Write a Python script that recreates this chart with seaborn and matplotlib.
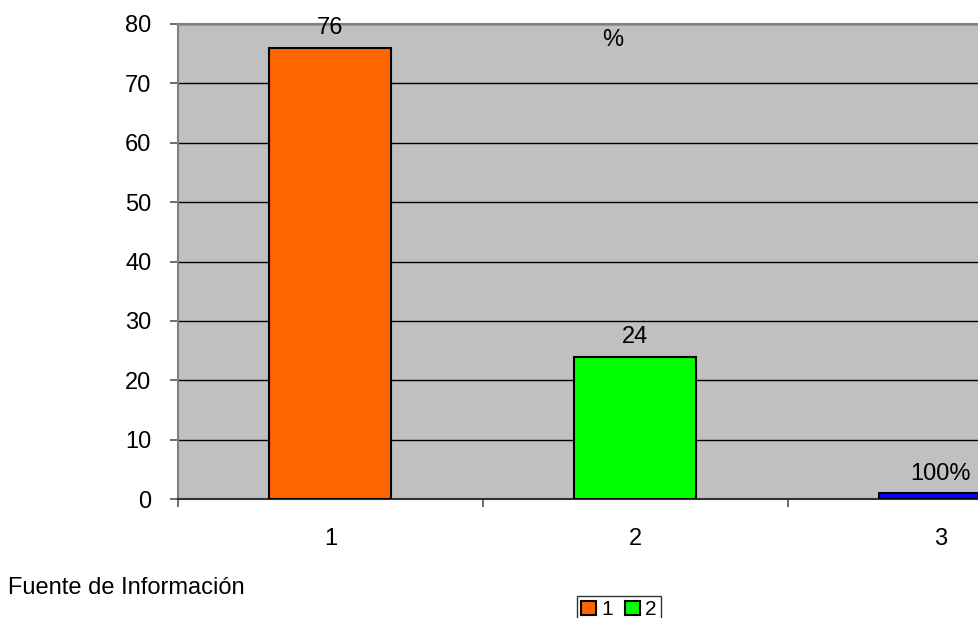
import matplotlib
matplotlib.use("Agg")
import matplotlib.pyplot as plt
import seaborn as sns
import pandas as pd
from matplotlib.patches import Patch

categories = ["1", "2", "3"]
values = [76, 24, 1]
bar_labels = ["76", "24", "100%"]
bar_colors = ["#FF6600", "#00FF00", "#0000FF"]
legend_labels = ["1", "2"]
y_ticks = [0, 10, 20, 30, 40, 50, 60, 70, 80]

sns.set_theme(style="white")
plt.rcParams['font.family'] = ['Liberation Sans', 'DejaVu Sans']
plt.rcParams['text.color'] = 'black'

df = pd.DataFrame({"cat": categories, "val": values})

fig = plt.figure(figsize=(9.79, 6.18), dpi=100)
W, H = 979, 618
ax = fig.add_axes([178 / W, (H - 499) / H, 915 / W, 475 / H])
ax.set_facecolor("#C0C0C0")

sns.barplot(data=df, x="cat", y="val", hue="cat", palette=bar_colors,
            legend=False, width=0.4, edgecolor="black", linewidth=1.5,
            saturation=1, ax=ax, zorder=3)

ax.set_ylim(0, 80)
ax.set_xlim(-0.5, 2.5)
ax.set_yticks(y_ticks)
ax.yaxis.grid(True, color="black", linewidth=1.0, zorder=1)
ax.set_axisbelow(True)
ax.set_xlabel("")
ax.set_ylabel("")

ax.set_xticks(range(len(categories)))
ax.set_xticklabels(categories)
ax.set_xticks([i - 0.5 for i in range(len(categories) + 1)], minor=True)
ax.tick_params(axis="x", which="major", length=0, labelsize=17, pad=21, colors="black")
ax.tick_params(axis="x", which="minor", length=6, width=1.2, color="#555555", direction="out", bottom=True)
ax.tick_params(axis="y", which="major", length=6, width=1.2, color="#555555", direction="out", left=True,
               labelsize=17, pad=13, labelcolor="black")

for s in ["left", "top"]:
    ax.spines[s].set_color("#808080")
    ax.spines[s].set_linewidth(1.5)
ax.spines["bottom"].set_color("#333333")
ax.spines["bottom"].set_linewidth(1.5)
ax.spines["right"].set_visible(False)

for cont in ax.containers:
    for patch in cont.patches:
        if patch is None:
            continue
        cx = patch.get_x() + patch.get_width() / 2
        idx = int(round(cx))
        ax.annotate(bar_labels[idx], (cx, patch.get_height()), xytext=(0, 6),
                    textcoords="offset points", ha="center", va="bottom",
                    fontsize=17, color="black", zorder=5)

ax.text(0.475, 0.966, "%", transform=ax.transAxes, ha="center", va="center", fontsize=17, color="black")

fig.text(8 / W, (H - 588) / H, "Fuente de Información", ha="left", va="center", fontsize=17, color="black")

handles = [Patch(facecolor=bar_colors[i], edgecolor="black", linewidth=1.5) for i in range(len(legend_labels))]
leg = fig.legend(handles, legend_labels, loc="upper left", bbox_to_anchor=(577 / W, (H - 596) / H),
                 ncol=2, fontsize=15, frameon=True, fancybox=False, edgecolor="black",
                 handlelength=0.7, handleheight=0.7, handletextpad=0.25, columnspacing=0.6,
                 borderpad=0.2, borderaxespad=0)
leg.get_frame().set_linewidth(1.0)
for t in leg.get_texts():
    t.set_color("black")

fig.savefig("out.png", dpi=100)
